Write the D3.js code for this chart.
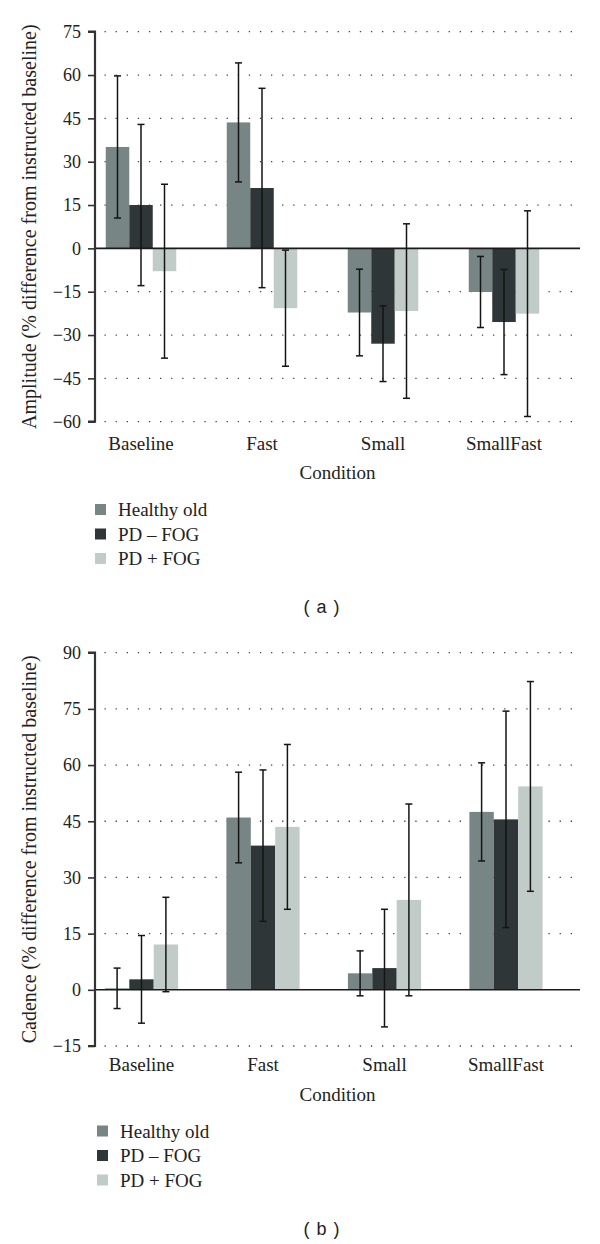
<!DOCTYPE html>
<html>
<head>
<meta charset="utf-8">
<script src="https://d3js.org/d3.v7.min.js"></script>
<style>
  html, body { margin: 0; padding: 0; background: #fff; }
  svg { display: block; }
</style>
</head>
<body>
<svg id="chart" width="600" height="1244"></svg>
<script>
// ---- Data ----
const categories = ["Baseline", "Fast", "Small", "SmallFast"];
const seriesNames = ["Healthy old", "PD \u2013 FOG", "PD + FOG"];

// (a) Amplitude (% difference from instructed baseline)
const ampHealthy   = [35.1, 43.6, -22.2, -15.1];
const ampPDnoFOG   = [15.0, 20.9, -33.0, -25.5];
const ampPDFOG     = [-7.9, -20.7, -21.7, -22.6];
const ampHealthyErr = [24.6, 20.6, 15.0, 12.3];
const ampPDnoFOGErr = [27.9, 34.5, 13.1, 18.2];
const ampPDFOGErr   = [30.1, 20.1, 30.2, 35.6];
const ampTicks = [-60, -45, -30, -15, 0, 15, 30, 45, 60, 75];

// (b) Cadence (% difference from instructed baseline)
const cadHealthy   = [0.4, 46.0, 4.4, 47.5];
const cadPDnoFOG   = [2.8, 38.5, 5.8, 45.5];
const cadPDFOG     = [12.1, 43.5, 24.0, 54.3];
const cadHealthyErr = [5.4, 12.1, 6.0, 13.1];
const cadPDnoFOGErr = [11.7, 20.2, 15.7, 28.9];
const cadPDFOGErr   = [12.6, 22.0, 25.6, 28.0];
const cadTicks = [-15, 0, 15, 30, 45, 60, 75, 90];

const colors = ["#778684", "#2f3637", "#c1cbc8"];

const svg = d3.select("#chart");
const serif = "'Liberation Serif', 'Times New Roman', serif";

function drawPanel(cfg) {
  const g = svg.append("g");
  const y = d3.scaleLinear().domain(cfg.domain).range([cfg.yBottom, cfg.yTop]);
  const xc = d3.scalePoint().domain(categories).range(cfg.centers);
  const xs = d3.scaleBand().domain(d3.range(3))
    .range([-cfg.barW * 1.5, cfg.barW * 1.5]).padding(0);

  // dotted gridlines
  g.append("g").selectAll("line")
    .data(cfg.ticks.filter(t => t !== 0))
    .join("line")
    .attr("x1", cfg.axisX + 9.5).attr("x2", cfg.gridEnd)
    .attr("y1", d => y(d)).attr("y2", d => y(d))
    .attr("stroke", "#444").attr("stroke-width", 1.3)
    .attr("stroke-dasharray", "1.3,9.8");

  const series = cfg.values.map((vals, si) => vals.map((v, ci) => ({
    si, cat: categories[ci], v, e: cfg.errs[si][ci]
  })));
  const flat = series.flat();

  // bars
  g.append("g").selectAll("rect")
    .data(flat).join("rect")
    .attr("x", d => xc(d.cat) + xs(d.si))
    .attr("width", xs.bandwidth())
    .attr("y", d => Math.min(y(d.v), y(0)))
    .attr("height", d => Math.abs(y(d.v) - y(0)))
    .attr("fill", d => colors[d.si]);

  // zero line
  g.append("line")
    .attr("x1", cfg.axisX).attr("x2", cfg.zeroEnd)
    .attr("y1", y(0)).attr("y2", y(0))
    .attr("stroke", "#1a1a1a").attr("stroke-width", 1.6);

  // error bars
  const eb = g.append("g").selectAll("g").data(flat).join("g")
    .attr("stroke", "#151515").attr("stroke-width", 1.5);
  const cx = d => xc(d.cat) + xs(d.si) + xs.bandwidth() / 2;
  eb.append("line")
    .attr("x1", cx).attr("x2", cx)
    .attr("y1", d => y(d.v + d.e)).attr("y2", d => y(d.v - d.e));
  eb.append("line")
    .attr("x1", d => cx(d) - 3.5).attr("x2", d => cx(d) + 3.5)
    .attr("y1", d => y(d.v + d.e)).attr("y2", d => y(d.v + d.e));
  eb.append("line")
    .attr("x1", d => cx(d) - 3.5).attr("x2", d => cx(d) + 3.5)
    .attr("y1", d => y(d.v - d.e)).attr("y2", d => y(d.v - d.e));

  // y axis
  const yAxis = d3.axisLeft(y).tickValues(cfg.ticks).tickSize(7).tickPadding(7)
    .tickFormat(d => d < 0 ? "\u2212" + Math.abs(d) : String(d));
  const ya = g.append("g").attr("transform", `translate(${cfg.axisX},0)`).call(yAxis);
  ya.select(".domain").attr("stroke", "#333").attr("stroke-width", 2.2)
    .attr("d", `M-7,${cfg.yTop}H0V${cfg.yBottom}H-7`);
  ya.selectAll(".tick line").attr("stroke", "#333").attr("stroke-width", 1.6);
  ya.selectAll(".tick text").attr("font-family", serif).attr("font-size", 18)
    .attr("fill", "#222");

  // category labels
  g.append("g").selectAll("text").data(categories).join("text")
    .attr("x", d => xc(d)).attr("y", cfg.catY)
    .attr("text-anchor", "middle")
    .attr("font-family", serif).attr("font-size", 19).attr("fill", "#222")
    .text(d => d);

  g.append("text")
    .attr("x", (cfg.axisX + cfg.zeroEnd) / 2).attr("y", cfg.condY)
    .attr("text-anchor", "middle")
    .attr("font-family", serif).attr("font-size", 19).attr("fill", "#222")
    .text("Condition");

  // y title
  g.append("text")
    .attr("transform", `translate(${cfg.titleX},${(cfg.yTop + cfg.yBottom) / 2}) rotate(-90)`)
    .attr("text-anchor", "middle")
    .attr("font-family", serif).attr("font-size", 20).attr("fill", "#222")
    .text(cfg.title);

  // legend
  const lg = g.append("g").selectAll("g").data(seriesNames).join("g")
    .attr("transform", (d, i) => `translate(${cfg.legX},${cfg.legY + i * cfg.legStep})`);
  lg.append("rect").attr("x", 0).attr("y", -5.5).attr("width", 11).attr("height", 11)
    .attr("fill", (d, i) => colors[i]);
  lg.append("text").attr("x", 23).attr("y", 6.5)
    .attr("font-family", serif).attr("font-size", 19).attr("fill", "#222")
    .text(d => d);

  // panel label
  g.append("text")
    .attr("x", 322).attr("y", cfg.panelY)
    .attr("text-anchor", "middle")
    .attr("font-family", "'Liberation Sans', Arial, sans-serif")
    .attr("font-size", 18).attr("letter-spacing", 1).attr("fill", "#222")
    .text(cfg.panel);
}

drawPanel({
  domain: [-60, 75], ticks: ampTicks,
  yTop: 31.7, yBottom: 421.7, axisX: 95, gridEnd: 575, zeroEnd: 580,
  centers: [141, 504], barW: 23.5,
  values: [ampHealthy, ampPDnoFOG, ampPDFOG],
  errs: [ampHealthyErr, ampPDnoFOGErr, ampPDFOGErr],
  catY: 450, condY: 479, titleX: 36,
  title: "Amplitude (% difference from instructed baseline)",
  legX: 95, legY: 509.5, legStep: 24.5,
  panel: "( a )", panelY: 613
});

drawPanel({
  domain: [-15, 90], ticks: cadTicks,
  yTop: 652.7, yBottom: 1046, axisX: 95, gridEnd: 575, zeroEnd: 580,
  centers: [141.5, 506], barW: 24.4,
  values: [cadHealthy, cadPDnoFOG, cadPDFOG],
  errs: [cadHealthyErr, cadPDnoFOGErr, cadPDFOGErr],
  catY: 1071, condY: 1101, titleX: 36,
  title: "Cadence (% difference from instructed baseline)",
  legX: 97, legY: 1131, legStep: 24.5,
  panel: "( b )", panelY: 1235
});
</script>
</body>
</html>
